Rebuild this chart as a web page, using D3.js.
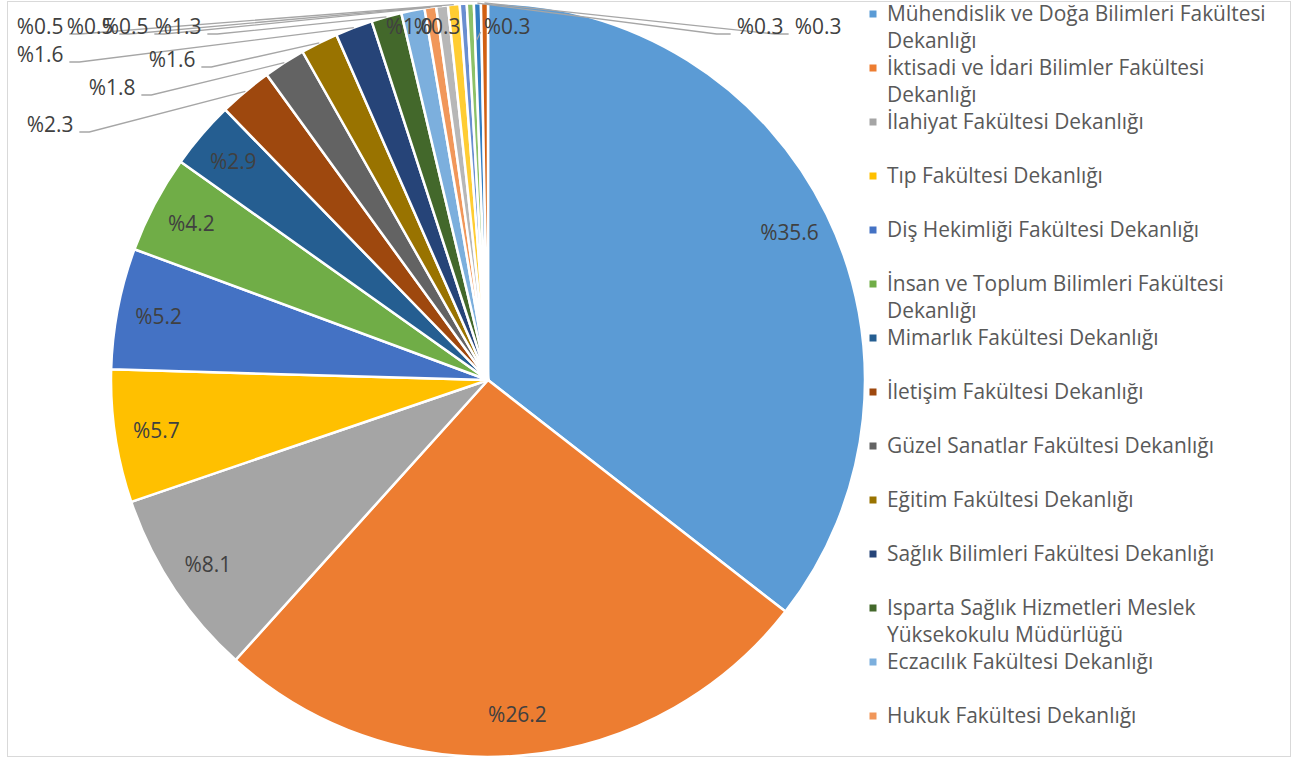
<!DOCTYPE html>
<html>
<head>
<meta charset="utf-8">
<script src="https://cdn.jsdelivr.net/npm/d3@7"></script>
<style>
  body { margin: 0; background: #fff; }
  svg { display: block; }
  text { font-family: "Open Sans", "Noto Sans", sans-serif; }
</style>
</head>
<body>
<svg id="chart" width="1292" height="758"></svg>
<script>
// units (legend only shows the first 14, the rest are cut off in the original)
const categories = [
    "Mühendislik ve Doğa Bilimleri Fakültesi Dekanlığı",
    "İktisadi ve İdari Bilimler Fakültesi Dekanlığı",
    "İlahiyat Fakültesi Dekanlığı",
    "Tıp Fakültesi Dekanlığı",
    "Diş Hekimliği Fakültesi Dekanlığı",
    "İnsan ve Toplum Bilimleri Fakültesi Dekanlığı",
    "Mimarlık Fakültesi Dekanlığı",
    "İletişim Fakültesi Dekanlığı",
    "Güzel Sanatlar Fakültesi Dekanlığı",
    "Eğitim Fakültesi Dekanlığı",
    "Sağlık Bilimleri Fakültesi Dekanlığı",
    "Isparta Sağlık Hizmetleri Meslek Yüksekokulu Müdürlüğü",
    "Eczacılık Fakültesi Dekanlığı",
    "Hukuk Fakültesi Dekanlığı",
    "Fen Bilimleri Enstitüsü Müdürlüğü",
    "Sosyal Bilimler Enstitüsü Müdürlüğü",
    "Sağlık Bilimleri Enstitüsü Müdürlüğü",
    "Yabancı Diller Yüksekokulu Müdürlüğü",
    "Teknik Bilimler Meslek Yüksekokulu Müdürlüğü",
    "Sosyal Bilimler Meslek Yüksekokulu Müdürlüğü"
];
const shares = [35.6, 26.2, 8.1, 5.7, 5.2, 4.2, 2.9, 2.3, 1.8, 1.6, 1.6, 1.3, 1.0, 0.5, 0.5, 0.5, 0.3, 0.3, 0.3, 0.3];
const colors = [
    "#5B9BD5", "#ED7D31", "#A5A5A5", "#FFC000", "#4472C4", "#70AD47",
    "#255E91", "#9E480E", "#636363", "#997300", "#264478", "#43682B",
    "#7CAFDD", "#F1975A", "#B7B7B7", "#FFCD33", "#698ED0", "#8CC168",
    "#327DC2", "#D26012"
];

// where Excel dropped the callouts for the thin slices (text centre + leader side)
const callouts = [
    { i: 7,  x: 50,  y: 125, side: "left" },
    { i: 8,  x: 112, y: 88,  side: "left" },
    { i: 9,  x: 172, y: 60,  side: "left" },
    { i: 10, x: 40,  y: 55,  side: "left" },
    { i: 11, x: 178, y: 27,  side: "left" },
    { i: 12, x: 409, y: 27,  side: "none" },
    { i: 13, x: 125, y: 27,  side: "left" },
    { i: 14, x: 90,  y: 27,  side: "left" },
    { i: 15, x: 40,  y: 27,  side: "left" },
    { i: 16, x: 437, y: 27,  side: "none" },
    { i: 17, x: 507, y: 27,  side: "short" },
    { i: 18, x: 760, y: 27,  side: "right" },
    { i: 19, x: 818, y: 27,  side: "right" }
];

const svg = d3.select("#chart");
const cx = 488, cy = 380, R = 377;
const fmt = v => "%" + v.toFixed(1);

// fit the font so the first legend line is as wide as in the picture
const probe = svg.append("text").attr("font-size", 100).text("Mühendislik ve Doğa Bilimleri Fakültesi");
const fs = 100 * 379 / probe.node().getComputedTextLength();
probe.remove();

svg.append("rect")
    .attr("x", 7.5).attr("y", 1.5)
    .attr("width", 1283).attr("height", 755)
    .attr("fill", "#fff").attr("stroke", "#D9D9D9");

const pie = d3.pie().sort(null).value(d => d);
const arcs = pie(shares);
const arc = d3.arc().innerRadius(0).outerRadius(R);
const labelArc = d3.arc().innerRadius(R * 0.89).outerRadius(R * 0.89);
const edgeArc = d3.arc().innerRadius(R).outerRadius(R);

const g = svg.append("g").attr("transform", `translate(${cx},${cy})`);
g.selectAll("path.slice")
    .data(arcs)
    .join("path")
    .attr("class", "slice")
    .attr("d", arc)
    .attr("fill", (d, i) => colors[i])
    .attr("stroke", "#fff")
    .attr("stroke-width", 2.5)
    .attr("stroke-linejoin", "round");

// inside labels for the big slices
g.selectAll("text.inner")
    .data(arcs.slice(0, 7))
    .join("text")
    .attr("class", "inner")
    .attr("transform", d => `translate(${labelArc.centroid(d)})`)
    .attr("text-anchor", "middle")
    .attr("dy", "0.35em")
    .attr("font-size", fs)
    .attr("fill", "#404040")
    .text(d => fmt(d.data));

// callouts
const co = svg.append("g");
callouts.forEach(c => {
    const t = co.append("text")
        .attr("x", c.x).attr("y", c.y)
        .attr("text-anchor", "middle")
        .attr("dy", "0.35em")
        .attr("font-size", fs)
        .attr("fill", "#404040")
        .text(fmt(shares[c.i]));
    const w = t.node().getComputedTextLength();
    const e = edgeArc.centroid(arcs[c.i]);
    const tip = [cx + e[0], cy + e[1]];
    let pts = null;
    if (c.side === "left") {
        const x0 = c.x + w / 2 + 6, yy = c.y + 7;
        pts = [[x0, yy], [x0 + 10, yy], tip];
    } else if (c.side === "right") {
        const x0 = c.x - w / 2 - 6, yy = c.y + 7;
        pts = [[x0, yy], [x0 - 14, yy], tip];
    } else if (c.side === "short") {
        const x0 = c.x - w / 2 - 3;
        pts = [[x0, c.y + 5], [x0 - 4, c.y + 13]];
    }
    if (pts) {
        co.insert("path", "text")
            .attr("d", d3.line()(pts))
            .attr("fill", "none")
            .attr("stroke", "#A6A6A6")
            .attr("stroke-width", 1.3);
    }
});

// legend: 14 entries fit, two text lines per entry
const lg = svg.append("g");
const maxW = 400, lineH = 27, slot = 54;
categories.forEach((name, i) => {
    const y0 = 14 + slot * i;
    if (y0 > 735) return;
    lg.append("rect")
        .attr("x", 869.5).attr("y", y0 - 3.5)
        .attr("width", 7).attr("height", 7)
        .attr("fill", colors[i]);
    const t = lg.append("text")
        .attr("x", 887)
        .attr("font-size", fs)
        .attr("fill", "#595959");
    const words = name.split(" ");
    let line = [], row = 0;
    let ts = t.append("tspan").attr("x", 887).attr("y", y0).attr("dy", "0.35em");
    words.forEach(wd => {
        line.push(wd);
        ts.text(line.join(" "));
        if (ts.node().getComputedTextLength() > maxW && line.length > 1) {
            line.pop();
            ts.text(line.join(" "));
            line = [wd];
            row++;
            ts = t.append("tspan").attr("x", 887).attr("y", y0 + row * lineH).attr("dy", "0.35em").text(wd);
        }
    });
});
</script>
</body>
</html>
